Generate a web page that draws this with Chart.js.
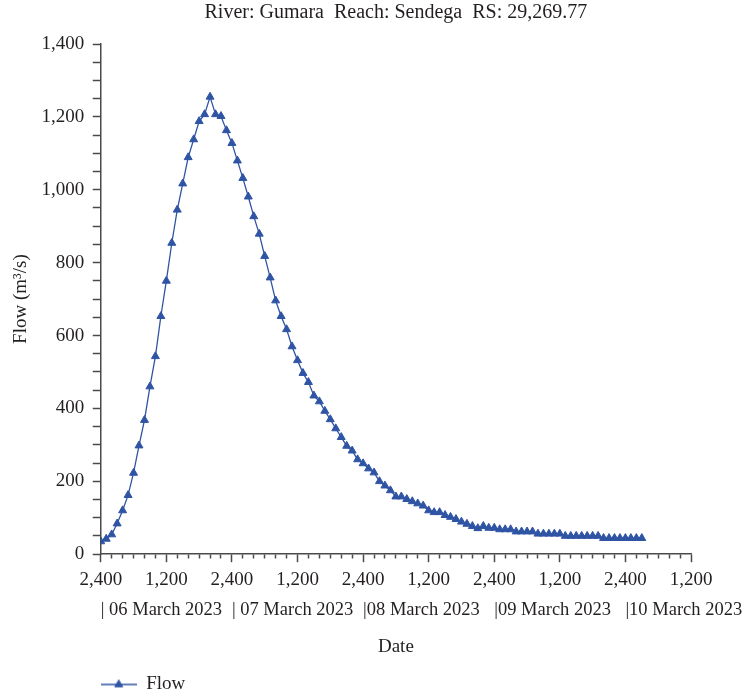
<!DOCTYPE html>
<html>
<head>
<meta charset="utf-8">
<title>Gumara flow hydrograph</title>
<script src="https://cdn.jsdelivr.net/npm/chart.js"></script>
<style>
    html, body { margin: 0; padding: 0; background: #ffffff; }
    canvas { display: block; }
</style>
</head>
<body>
<canvas id="chart-flow" width="744" height="696"></canvas>
<script>
const chartTitle = 'River: Gumara  Reach: Sendega  RS: 29,269.77'

// hourly flow (m3/s), first value at 06 March 2023 00:00
const flow = [
    35, 42, 54, 84, 120, 162, 223, 298, 368, 460,
    543, 653, 750, 854, 945, 1017, 1089, 1138, 1188, 1207,
    1255, 1207, 1202, 1163, 1128, 1080, 1032, 981, 927, 879,
    818, 759, 696, 653, 617, 570, 532, 497, 472, 435,
    419, 393, 370, 345, 321, 297, 284, 260, 249, 235,
    224, 200, 188, 175, 158, 158, 151, 145, 139, 133,
    120, 115, 115, 107, 102, 96, 89, 83, 77, 71,
    77, 72, 72, 68, 68, 68, 62, 62, 62, 62,
    56, 56, 56, 56, 56, 50, 50, 50, 50, 50,
    50, 50, 44, 44, 44, 44, 44, 44, 44, 44
]

const hoursShown = 108
const clockLabels = ['2,400', '1,200']
const dayStarts = [0, 24, 48, 72, 96]
const dayLabels = ['| 06 March 2023', '| 07 March 2023', '|08 March 2023', '|09 March 2023', '|10 March 2023']
const yLabelled = [0, 200, 400, 600, 800, 1000, 1200, 1400]

const lineColor = '#2f54a4'
const axisColor = '#4a4a4a'
const textColor = '#231f20'
const fontFamily = '"Liberation Serif", "Times New Roman", serif'

const points = flow.map((value, hour) => ({ x: hour, y: value }))

// legend glyph: short line with the same triangle marker
function legendGlyph() {
    const glyph = document.createElement('canvas')
    glyph.width = 36
    glyph.height = 12
    const g = glyph.getContext('2d')
    g.strokeStyle = lineColor
    g.fillStyle = lineColor
    g.lineWidth = 1.3
    g.beginPath()
    g.moveTo(0, 6)
    g.lineTo(36, 6)
    g.stroke()
    g.lineWidth = 1
    Chart.helpers.drawPoint(g, { pointStyle: 'triangle', radius: 4.6, borderWidth: 1 }, 18, 6)
    return glyph
}

const ctx = document.getElementById('chart-flow').getContext('2d')

const chart = new Chart(ctx, {
    type: 'line',
    data: {
        datasets: [{
            label: 'Flow',
            data: points,
            borderColor: lineColor,
            backgroundColor: lineColor,
            borderWidth: 1.3,
            pointStyle: 'triangle',
            pointRadius: 4.6,
            pointBorderWidth: 1,
            pointBackgroundColor: lineColor,
            pointBorderColor: lineColor,
            tension: 0,
            fill: false
        }]
    },
    options: {
        responsive: false,
        animation: false,
        events: [],
        layout: {
            padding: { left: 0, right: 53, top: 0, bottom: -8 }
        },
        plugins: {
            title: {
                display: true,
                fullSize: false,
                text: chartTitle,
                color: textColor,
                font: { family: fontFamily, size: 20, weight: 'normal' },
                padding: { top: 1, bottom: 19 }
            },
            legend: {
                position: 'bottom',
                align: 'start',
                fullSize: false,
                labels: {
                    usePointStyle: true,
                    pointStyle: legendGlyph(),
                    pointStyleWidth: 36,
                    boxHeight: 12,
                    padding: 0,
                    color: textColor,
                    font: { family: fontFamily, size: 19 }
                }
            },
            tooltip: { enabled: false }
        },
        scales: {
            x: {
                type: 'linear',
                position: 'bottom',
                weight: 0,
                min: 0,
                max: hoursShown,
                border: { display: true, color: axisColor, width: 1.5 },
                grid: {
                    drawOnChartArea: false,
                    tickLength: 8,
                    tickColor: axisColor,
                    tickWidth: 1.5,
                    // minor (2 h) ticks stay short, 12 h ticks are full length
                    tickBorderDash: (c) => (c.tick && c.tick.value % 12 !== 0) ? [4, 30] : []
                },
                ticks: {
                    stepSize: 2,
                    autoSkip: false,
                    maxRotation: 0,
                    padding: 6,
                    color: textColor,
                    font: { family: fontFamily, size: 19 },
                    callback: (value) => value % 12 === 0 ? clockLabels[(value / 12) % 2] : ''
                }
            },
            x2: {
                type: 'linear',
                position: 'bottom',
                weight: 1,
                min: 0,
                max: hoursShown,
                border: { display: false },
                grid: { display: false, drawTicks: false },
                afterBuildTicks: (axis) => {
                    axis.ticks = dayStarts.map(value => ({ value }))
                },
                // the last day label may run past the plot edge, as in the original
                afterFit: (axis) => {
                    axis.paddingRight = 0
                },
                ticks: {
                    align: 'start',
                    autoSkip: false,
                    maxRotation: 0,
                    padding: 2,
                    color: textColor,
                    font: { family: fontFamily, size: 18.5 },
                    callback: (value, index) => dayLabels[index]
                },
                title: {
                    display: true,
                    text: 'Date',
                    color: textColor,
                    font: { family: fontFamily, size: 19 },
                    padding: { top: 12, bottom: 17 }
                }
            },
            y: {
                min: 0,
                max: 1400,
                border: { display: true, color: axisColor, width: 1.5 },
                grid: {
                    drawOnChartArea: false,
                    tickLength: 8,
                    tickColor: axisColor,
                    tickWidth: 1.5
                },
                ticks: {
                    stepSize: 50,
                    autoSkip: false,
                    padding: 8.6,
                    color: textColor,
                    font: { family: fontFamily, size: 19 },
                    callback: (value) => yLabelled.includes(value) ? value.toLocaleString('en-US') : ''
                },
                title: {
                    display: true,
                    text: 'Flow (m³/s)',
                    color: textColor,
                    font: { family: fontFamily, size: 19 },
                    padding: { top: 10, bottom: 0 }
                }
            }
        }
    }
})
</script>
</body>
</html>
